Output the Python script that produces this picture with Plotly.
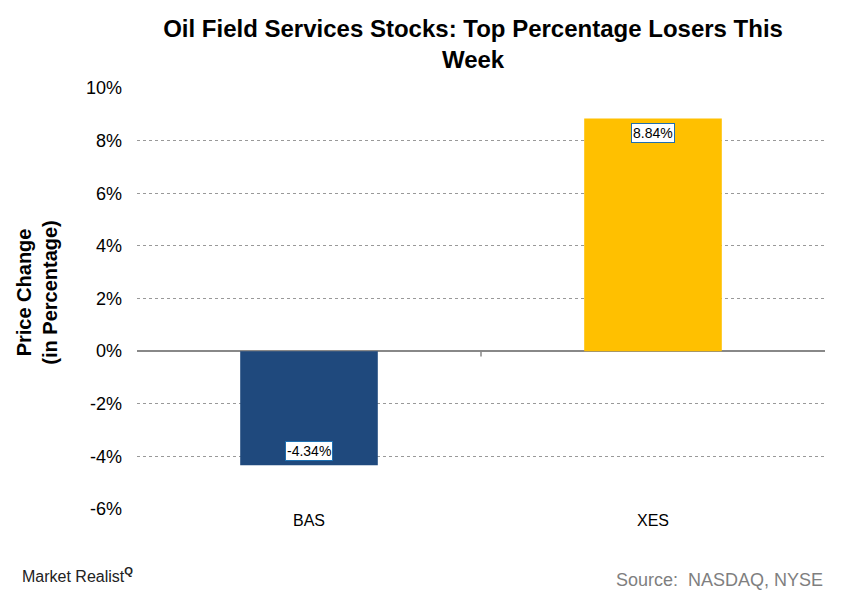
import plotly.graph_objects as go

categories = ["BAS", "XES"]
values = [-4.34, 8.84]
colors = ["#1F497D", "#FFC000"]
y_ticks = [-6, -4, -2, 0, 2, 4, 6, 8, 10]
y_tick_labels = [f"{v}%" for v in y_ticks]
title = "Oil Field Services Stocks: Top Percentage Losers This<br>Week"
y_title = "Price Change<br>(in Percentage)"
source = "Source:  NASDAQ, NYSE"

FONT = "Liberation Sans, Arial"

fig = go.Figure()
fig.add_trace(go.Bar(x=categories, y=values, marker=dict(color=colors, line=dict(width=0)),
                     width=0.4, hoverinfo="skip"))

for c, v in zip(categories, values):
    fig.add_annotation(x=c, y=v, xref="x", yref="y", text=f"{v:.2f}%",
                       showarrow=False, yshift=(14 if v < 0 else -14),
                       font=dict(family=FONT, size=14, color="#000"),
                       bgcolor="white", bordercolor="#1F6FB0", borderwidth=1, borderpad=1)

# category boundary tick
fig.add_shape(type="line", xref="x", yref="y", x0=0.5, x1=0.5, y0=0, y1=-0.2,
              line=dict(color="#888", width=1.5))

fig.update_layout(
    width=841, height=598,
    margin=dict(l=129, r=24, t=80, b=97),
    paper_bgcolor="white", plot_bgcolor="white",
    showlegend=False,
    title=dict(text=f"<b>{title}</b>", x=0.553, xanchor="center", xref="container",
               y=0.952, yanchor="top", yref="container",
               font=dict(family=FONT, size=24, color="#000")),
    font=dict(family=FONT, color="#000"),
    xaxis=dict(tickfont=dict(size=16), showgrid=False, showline=False, ticks="",
               range=[-0.5, 1.5]),
    yaxis=dict(range=[-6, 10], tickvals=y_ticks, ticktext=y_tick_labels,
               tickfont=dict(size=18), showgrid=True, gridcolor="#999", griddash="3px,3px",
               gridwidth=1, zeroline=True, zerolinecolor="#888", zerolinewidth=2,
               ticks="", ticklabelstandoff=14, showline=False),
)
fig.add_annotation(x=-0.183, y=0.514, xref="paper", yref="paper", text=f"<b>{y_title}</b>",
                   textangle=-90, showarrow=False,
                   font=dict(family=FONT, size=20, color="#000"))
fig.add_annotation(x=1.0, y=-0.169, xref="paper", yref="paper", text=source,
                   xanchor="right", yanchor="middle", showarrow=False,
                   font=dict(family=FONT, size=18, color="#7F7F7F"))
fig.add_annotation(x=-0.170, y=-0.157, xref="paper", yref="paper",
                   text="Market Realist<sup><b>Q</b></sup>", xanchor="left", yanchor="middle",
                   showarrow=False,
                   font=dict(family=FONT, size=16, color="#222"))

fig.write_html("out.html")
